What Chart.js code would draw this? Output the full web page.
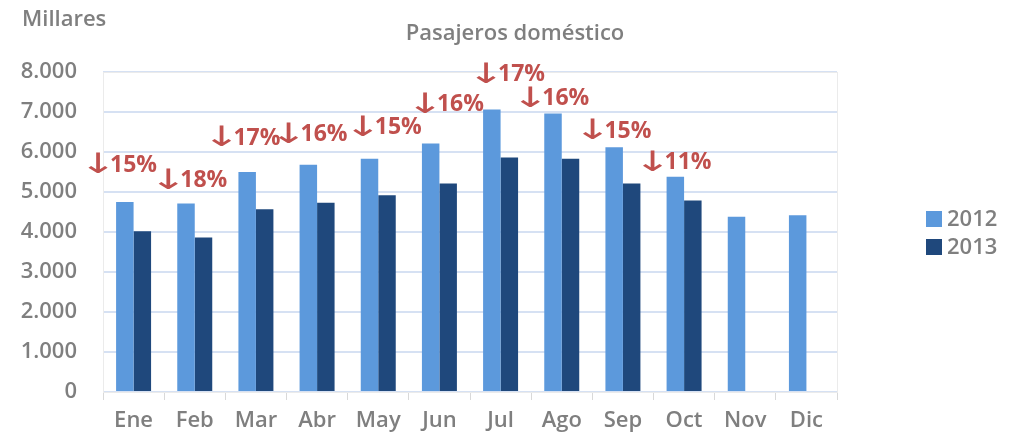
<!DOCTYPE html>
<html lang="es">
<head>
<meta charset="utf-8">
<title>Pasajeros doméstico</title>
<script src="https://cdn.jsdelivr.net/npm/chart.js@4/dist/chart.umd.min.js"></script>
<style>
  html, body { margin: 0; padding: 0; background: #fff; }
  #wrap { width: 1022px; height: 440px; }
</style>
</head>
<body>
<div id="wrap"><canvas id="chart" width="1022" height="440"></canvas></div>
<script>
'use strict';

// ── Data (thousands of passengers) ─────────────────────────
const MONTHS   = ['Ene', 'Feb', 'Mar', 'Abr', 'May', 'Jun', 'Jul', 'Ago', 'Sep', 'Oct', 'Nov', 'Dic'];
const PAX_2012 = [4750, 4710, 5500, 5680, 5830, 6210, 7060, 6960, 6120, 5380, 4380, 4420];
const PAX_2013 = [4020, 3860, 4570, 4730, 4920, 5210, 5860, 5830, 5210, 4790, null, null];
const DROPS    = ['↓15%', '↓18%', '↓17%', '↓16%', '↓15%', '↓16%', '↓17%', '↓16%', '↓15%', '↓11%'];
const Y_TICKS  = [0, 1000, 2000, 3000, 4000, 5000, 6000, 7000, 8000];
const SERIES   = ['2012', '2013'];

// ── Styles ─────────────────────────────────────────────────
const GREY   = '#7F7F7F';
const RED    = '#C0504D';
const COLORS = ['#5C99DC', '#1F487C'];
const FONT   = '"Open Sans", "DejaVu Sans", sans-serif';

const fmtThousands = (v) => String(v).replace(/\B(?=(\d{3})+(?!\d))/g, '.');

// ── Plot frame (faint border round the plot area) ─────────
const frame = {
    id: 'frame',
    beforeDatasetsDraw(chart) {
        const { ctx, chartArea: a } = chart;
        ctx.save();
        ctx.strokeStyle = '#EBEBEB';
        ctx.lineWidth = 1;
        ctx.strokeRect(a.left + 0.5, a.top + 0.5, a.right - a.left, a.bottom - a.top);
        ctx.restore();
    }
};

// ── Texts: units, title, legend, drop labels ──────────────
const extras = {
    id: 'extras',
    afterDraw(chart, args, opts) {
        const { ctx } = chart;
        ctx.save();
        ctx.textBaseline = 'middle';

        // units + title
        ctx.fillStyle = GREY;
        ctx.font = `600 22px ${FONT}`;
        ctx.textAlign = 'left';
        ctx.fillText('Millares', 22, 20);
        ctx.textAlign = 'center';
        ctx.fillText('Pasajeros doméstico', 515, 34);

        // legend
        chart.data.datasets.forEach((ds, i) => {
            const y = 219 + i * 28;
            ctx.fillStyle = ds.backgroundColor;
            ctx.fillRect(926, y - 8, 16, 16);
            ctx.fillStyle = GREY;
            ctx.textAlign = 'left';
            ctx.fillText(ds.label, 947, y + 1);
        });

        // year-on-year drop labels above the 2012 bars
        const meta = chart.getDatasetMeta(0);
        const arrowFont = '28px "DejaVu Sans", sans-serif';
        const numFont = `bold 23px ${FONT}`;
        const stretch = 1.6;   // widen the arrow glyph to match the reference
        ctx.fillStyle = RED;
        DROPS.forEach((txt, i) => {
            const arrow = txt.charAt(0), num = txt.slice(1);
            ctx.font = numFont;
            const nw = ctx.measureText(num).width;
            const aw = 22;
            const cx = chart.scales.x.getPixelForValue(i) + opts.dx[i];
            const cy = meta.data[i].y + opts.dy[i];
            const x0 = cx - (aw + nw) / 2;
            ctx.save();
            ctx.translate(x0 + aw / 2, cy + 1);
            ctx.scale(stretch, 1);
            ctx.font = arrowFont;
            ctx.textAlign = 'center';
            ctx.fillText(arrow, 0, 0);
            ctx.restore();
            ctx.font = numFont;
            ctx.textAlign = 'left';
            ctx.fillText(num, x0 + aw + 1, cy);
        });
        ctx.restore();
    }
};

new Chart(document.getElementById('chart'), {
    type: 'bar',
    data: {
        labels: MONTHS,
        datasets: [
            { label: SERIES[0], data: PAX_2012, backgroundColor: COLORS[0] },
            { label: SERIES[1], data: PAX_2013, backgroundColor: COLORS[1] },
        ]
    },
    options: {
        responsive: false,
        animation: false,
        categoryPercentage: 0.572,
        barPercentage: 1,
        layout: { padding: { top: 72, right: 185, bottom: 0, left: 0 } },
        plugins: {
            legend: { display: false },
            title: { display: false },
            tooltip: { enabled: false },
            extras: {
                dx: [-12, -3, -11, -5, 8, 9, 9, -8, -7, -8],
                dy: [-37, -23, -34, -30, -31, -39, -35, -15, -16, -14],
            }
        },
        scales: {
            x: {
                grid: { drawOnChartArea: false, drawTicks: true, tickLength: 8, offset: true, color: '#D9D9D9' },
                border: { display: true, color: '#D9D9D9' },
                ticks: { color: GREY, font: { family: FONT, size: 22, weight: '600' }, padding: 8 },
                afterFit: s => { s.height = 48; }
            },
            y: {
                min: 0, max: 8000,
                afterBuildTicks: s => { s.ticks = Y_TICKS.map(v => ({ value: v })); },
                grid: { color: '#D6E1F3', lineWidth: 2, drawTicks: false },
                border: { display: false },
                ticks: { color: GREY, font: { family: FONT, size: 22, weight: '600' }, padding: 26, callback: fmtThousands },
                afterFit: s => { s.width = 103; }
            }
        }
    },
    plugins: [frame, extras]
});
</script>
</body>
</html>
